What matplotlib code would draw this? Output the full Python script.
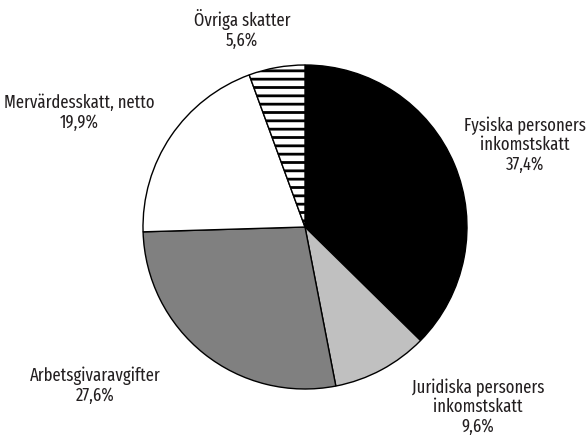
import matplotlib
matplotlib.use('Agg')
import matplotlib.pyplot as plt

labels = ['Fysiska personers\ninkomstskatt', 'Juridiska personers\ninkomstskatt',
          'Arbetsgivaravgifter', 'Mervärdesskatt, netto', 'Övriga skatter']
shares = [37.4, 9.6, 27.6, 19.9, 5.6]
colors = ['#000000', '#c0c0c0', '#808080', '#ffffff', '#ffffff']
hatches = ['', '', '', '', '--']

plt.rcParams['hatch.linewidth'] = 2.0
plt.rcParams['font.family'] = ['Fira Sans Extra Condensed', 'DejaVu Sans']

fig = plt.figure(figsize=(5.87, 4.41), dpi=100)
ax = fig.add_axes([0, 0, 1, 1])

wedges, _ = ax.pie(shares, colors=colors, startangle=90, counterclock=False,
                   center=(305, 214), radius=162, frame=True,
                   wedgeprops={'edgecolor': 'black', 'linewidth': 1.0})
for w, h in zip(wedges, hatches):
    w.set_hatch(h)
ax.set_xlim(0, 587)
ax.set_ylim(0, 441)
ax.axis('off')

# label positions in pixels (x, y from top)
label_pos = [(525, 145), (478, 407), (95, 386), (79, 113), (242, 29)]
for lab, val, (x, y) in zip(labels, shares, label_pos):
    txt = lab + '\n' + ('%.1f' % val).replace('.', ',') + '%'
    ax.text(x, 441 - y, txt, ha='center', va='center', fontsize=13,
            color='#231f20', linespacing=1.12)

fig.savefig('out.png', dpi=100)
